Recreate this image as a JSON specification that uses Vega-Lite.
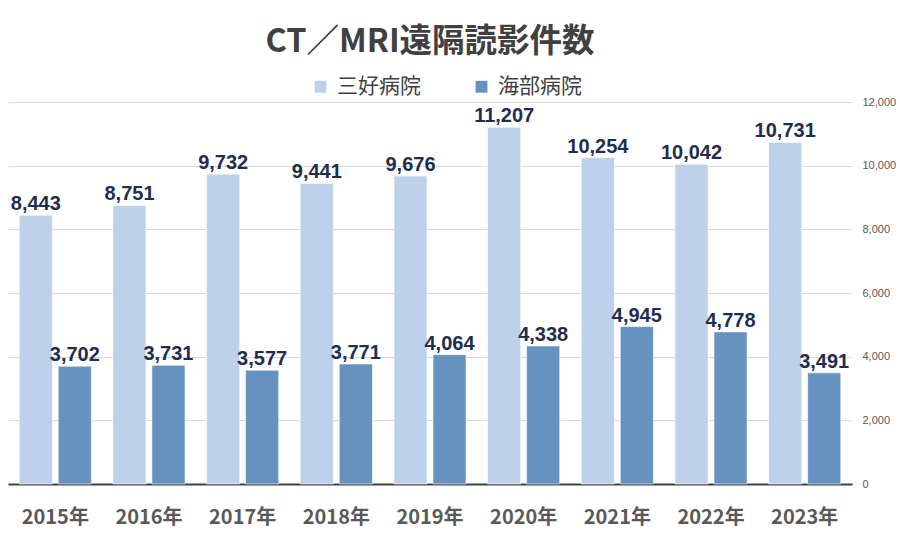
{
  "$schema": "https://vega.github.io/schema/vega-lite/v6.json",
  "width": 844,
  "height": 382,
  "autosize": {"type": "none"},
  "padding": {"left": 8, "top": 102, "right": 48, "bottom": 54},
  "background": "white",
  "config": {
    "font": "Noto Sans CJK JP",
    "view": {"stroke": null}
  },
  "title": {
    "text": "CT／MRI遠隔読影件数",
    "anchor": "middle",
    "fontSize": 32.5,
    "fontWeight": "bold",
    "color": "#404040",
    "font": "Noto Sans CJK JP",
    "offset": 18
  },
  "data": {
    "values": [
      {"year": "2015年", "hospital": "三好病院", "count": 8443},
      {"year": "2015年", "hospital": "海部病院", "count": 3702},
      {"year": "2016年", "hospital": "三好病院", "count": 8751},
      {"year": "2016年", "hospital": "海部病院", "count": 3731},
      {"year": "2017年", "hospital": "三好病院", "count": 9732},
      {"year": "2017年", "hospital": "海部病院", "count": 3577},
      {"year": "2018年", "hospital": "三好病院", "count": 9441},
      {"year": "2018年", "hospital": "海部病院", "count": 3771},
      {"year": "2019年", "hospital": "三好病院", "count": 9676},
      {"year": "2019年", "hospital": "海部病院", "count": 4064},
      {"year": "2020年", "hospital": "三好病院", "count": 11207},
      {"year": "2020年", "hospital": "海部病院", "count": 4338},
      {"year": "2021年", "hospital": "三好病院", "count": 10254},
      {"year": "2021年", "hospital": "海部病院", "count": 4945},
      {"year": "2022年", "hospital": "三好病院", "count": 10042},
      {"year": "2022年", "hospital": "海部病院", "count": 4778},
      {"year": "2023年", "hospital": "三好病院", "count": 10731},
      {"year": "2023年", "hospital": "海部病院", "count": 3491}
    ]
  },
  "encoding": {
    "x": {
      "field": "year",
      "type": "nominal",
      "sort": null,
      "scale": {"paddingInner": 0.23, "paddingOuter": 0.12},
      "axis": {
        "title": null,
        "labelAngle": 0,
        "labelFontSize": 20,
        "labelFontWeight": "bold",
        "labelColor": "#595959",
        "labelPadding": 23,
        "ticks": false,
        "domainColor": "#404040",
        "domainWidth": 2,
        "grid": false
      }
    },
    "xOffset": {
      "field": "hospital",
      "type": "nominal",
      "sort": ["三好病院", "海部病院"],
      "scale": {"paddingInner": 0.15}
    },
    "y": {
      "field": "count",
      "type": "quantitative",
      "scale": {"domain": [0, 12000], "nice": false},
      "axis": {
        "orient": "right",
        "title": null,
        "values": [0, 2000, 4000, 6000, 8000, 10000, 12000],
        "labelExpr": "format(datum.value, ',')",
        "labelFontSize": 11,
        "labelColor": "#595959",
        "labelFont": "Liberation Sans",
        "labelPadding": 10,
        "ticks": false,
        "domain": false,
        "gridColor": "#D9D9D9",
        "gridWidth": 1
      }
    }
  },
  "layer": [
    {
      "mark": {"type": "bar", "stroke": "#ffffff", "strokeWidth": 1, "strokeOpacity": 0.6},
      "encoding": {
        "color": {
          "field": "hospital",
          "type": "nominal",
          "scale": {"domain": ["三好病院", "海部病院"], "range": ["#BDD1EA", "#6592BE"]},
          "legend": {
            "title": null,
            "orient": "none",
            "direction": "horizontal",
            "legendX": 302,
            "legendY": -26,
            "symbolType": "square",
            "symbolSize": 140,
            "symbolStrokeWidth": 0,
            "labelFontSize": 21,
            "labelColor": "#404040",
            "columnPadding": 50,
            "labelOffset": 6
          }
        }
      }
    },
    {
      "mark": {"type": "text", "baseline": "bottom", "dy": -1, "fontSize": 20, "fontWeight": "bold", "color": "#1F2E4F", "font": "Liberation Sans"},
      "encoding": {
        "text": {"field": "count", "type": "quantitative", "format": ","}
      }
    }
  ]
}
